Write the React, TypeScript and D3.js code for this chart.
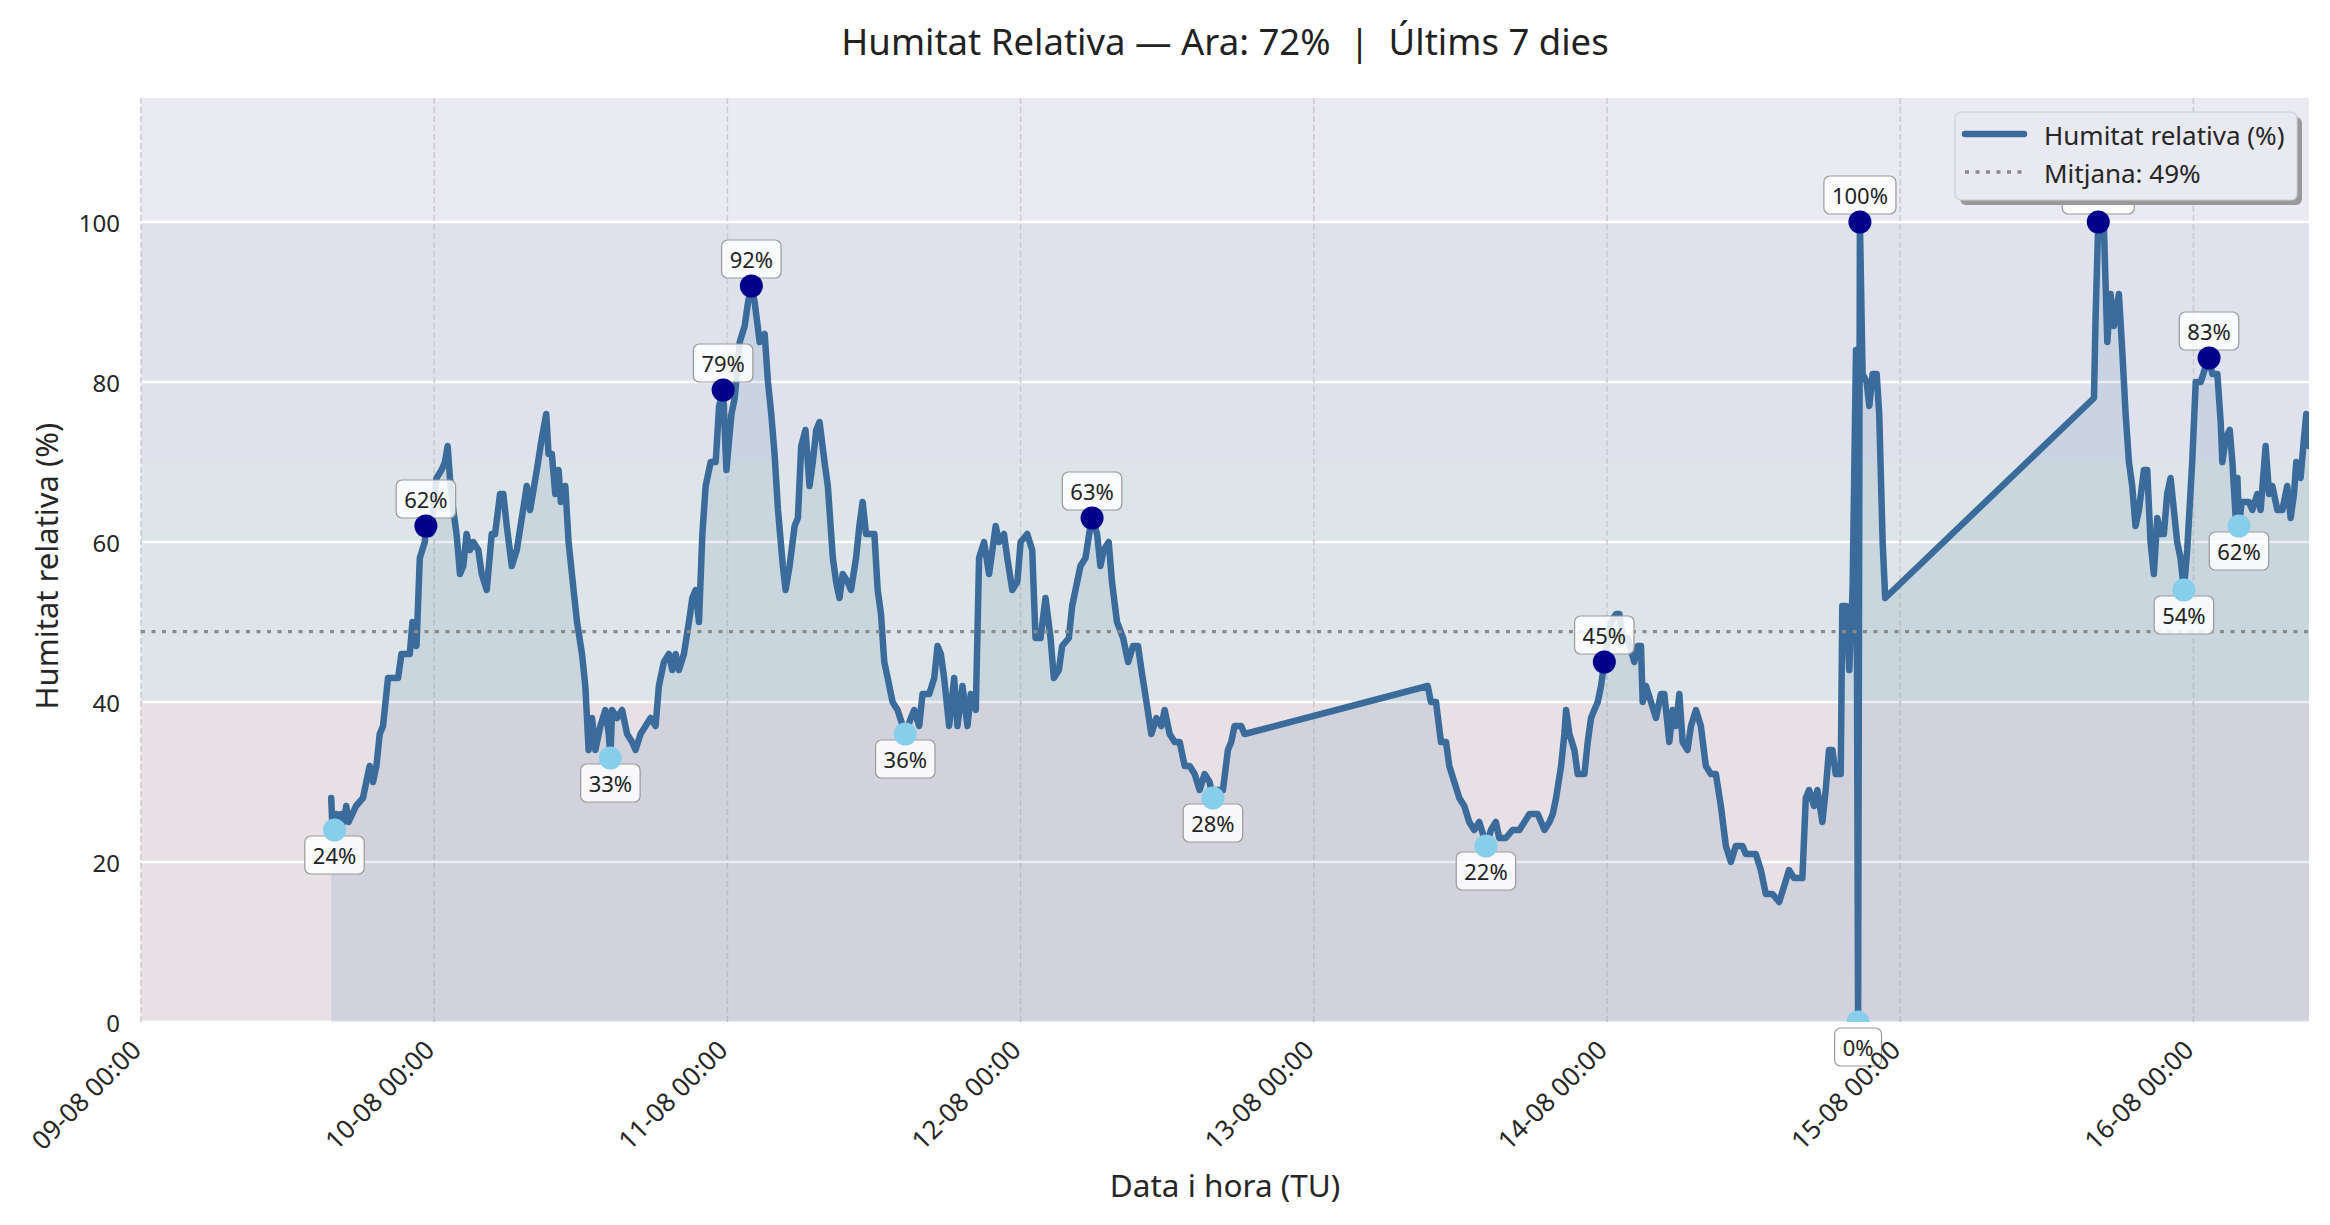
import { useEffect, useRef } from "react";
import * as d3 from "d3";

// hours after 09-08 00:00 (UTC) and relative humidity (%)
const START_UTC = Date.UTC(2025, 7, 9, 0, 0);

const hoursFromStart = [
  15.57, 15.65, 15.84, 16.0, 16.2, 16.4, 16.6, 16.8, 17.0, 17.3, 17.6, 18.17, 18.44, 18.72, 18.99,
  19.27, 19.54, 19.81, 20.22, 20.63, 21.04, 21.32, 22.0, 22.22, 22.55, 22.82, 23.23, 23.32, 23.7,
  24.19, 24.6, 24.88, 25.1, 25.29, 25.56, 25.83, 26.11, 26.38, 26.65, 26.93, 27.2, 27.61, 27.89,
  28.3, 28.71, 28.98, 29.39, 29.66, 29.94, 30.35, 30.76, 31.17, 31.58, 31.85, 32.4, 32.81, 33.17,
  33.36, 33.63, 33.91, 34.18, 34.37, 34.73, 35.0, 35.41, 35.69, 36.1, 36.37, 36.64, 36.92, 37.19,
  37.6, 38.01, 38.29, 38.42, 38.56, 38.97, 39.38, 39.79, 40.2, 40.48, 40.89, 41.3, 41.71, 42.12,
  42.39, 42.8, 43.21, 43.49, 43.76, 44.03, 44.44, 44.85, 45.13, 45.4, 45.67, 45.95, 46.22, 46.63,
  47.04, 47.32, 47.65, 47.92, 48.33, 48.6, 49.01, 49.41, 49.69, 49.96, 50.23, 50.64, 51.05, 51.32,
  51.59, 51.86, 52.14, 52.54, 52.76, 53.09, 53.5, 53.77, 54.04, 54.39, 54.72, 54.99, 55.27, 55.54,
  55.95, 56.22, 56.63, 56.9, 57.17, 57.44, 57.85, 58.12, 58.53, 58.8, 59.07, 59.35, 59.76, 60.03,
  60.3, 60.57, 60.84, 61.12, 61.52, 61.93, 62.56, 63.02, 63.29, 63.7, 63.97, 64.52, 64.93, 65.2,
  65.47, 65.74, 66.15, 66.56, 66.83, 67.24, 67.65, 67.92, 68.33, 68.6, 69.01, 69.42, 69.69, 69.96,
  70.23, 70.64, 70.91, 71.32, 71.73, 72.0, 72.54, 72.95, 73.22, 73.63, 74.04, 74.45, 74.72, 75.13,
  75.4, 75.95, 76.22, 76.49, 76.9, 77.31, 77.71, 77.85, 78.26, 78.53, 78.8, 79.21, 79.48, 79.89,
  80.39, 80.8, 81.2, 81.61, 81.89, 82.3, 82.7, 83.11, 83.52, 83.79, 84.2, 84.61, 85.02, 85.43,
  85.84, 86.25, 86.65, 87.06, 87.47, 87.74, 87.88, 88.56, 88.97, 89.24, 89.51, 90.06, 90.33,
  105.32, 105.59, 106.0, 106.41, 106.82, 107.09, 107.5, 107.91, 108.32, 108.72, 109.13, 109.54,
  109.95, 110.09, 110.5, 110.9, 111.18, 111.72, 112.27, 112.68, 112.83, 113.24, 113.65, 114.33,
  114.88, 115.29, 115.56, 115.83, 116.24, 116.51, 116.65, 116.92, 117.33, 117.6, 118.15, 118.42,
  118.69, 118.96, 119.24, 119.51, 119.78, 120.05, 120.33, 120.74, 121.01, 121.28, 121.69, 122.23,
  122.51, 122.78, 122.92, 123.19, 123.6, 124.01, 124.41, 124.69, 125.1, 125.37, 125.64, 125.92,
  126.19, 126.59, 126.87, 127.28, 127.68, 128.09, 128.5, 128.91, 129.32, 129.73, 130.14, 130.54,
  131.09, 131.36, 132.18, 132.59, 133.0, 133.54, 134.09, 134.5, 134.9, 135.31, 135.99, 136.27,
  136.54, 136.95, 137.22, 137.63, 137.9, 138.17, 138.45, 138.72, 139.13, 139.26, 139.56, 139.83,
  140.1, 140.38, 140.55, 140.7, 140.92, 141.25, 141.47, 141.74, 142.07, 142.28, 142.42, 142.56,
  142.77, 159.86, 159.99, 160.21, 160.68, 160.95, 161.22, 161.49, 161.9, 162.17, 162.45, 162.72,
  162.99, 163.26, 163.54, 163.95, 164.22, 164.49, 164.76, 165.04, 165.31, 165.58, 165.85, 166.13,
  166.4, 166.67, 166.94, 167.22, 167.49, 167.9, 168.19, 168.6, 169.01, 169.28, 169.55, 169.96,
  170.23, 170.37, 170.64, 170.97, 171.19, 171.46, 171.6, 171.73, 171.95, 172.55, 172.82, 173.23,
  173.5, 173.91, 174.19, 174.46, 174.87, 175.28, 175.68, 175.96, 176.23, 176.42, 176.77, 177.05,
  177.24, 177.46,
];

const humidity = [
  28, 25, 24, 26, 25, 26, 25, 27, 25, 26, 27, 28, 30, 32, 30,
  32, 36, 37, 43, 43, 43, 46, 46, 50, 47, 58, 60, 62, 61,
  68, 69, 70, 72, 68, 64, 61, 56, 57, 61, 59, 60, 59, 56,
  54, 61, 61, 66, 66, 62, 57, 59, 63, 67, 64, 69, 73, 76,
  71, 71, 66, 69, 65, 67, 60, 54, 50, 46, 42, 34, 38, 34,
  37, 39, 36, 33, 39, 38, 39, 36, 35, 34, 36, 37, 38, 37,
  42, 45, 46, 44, 46, 44, 46, 50, 53, 54, 50, 61, 67, 70,
  70, 77, 79, 69, 76, 78, 85, 87, 90, 92, 90, 85, 86, 80,
  76, 71, 64, 57, 54, 57, 62, 63, 72, 74, 67, 70, 74, 75,
  70, 67, 58, 55, 53, 56, 55, 54, 58, 62, 65, 61, 61, 61,
  54, 51, 45, 43, 40, 39, 36, 38, 39, 37, 41, 41, 43, 47,
  46, 43, 37, 43, 37, 42, 37, 41, 39, 58, 60, 56, 59, 62,
  60, 61, 58, 54, 55, 60, 61, 59, 48, 48, 53, 48, 43, 44,
  47, 48, 52, 54, 57, 58, 62, 63, 61, 57, 59, 60, 55, 50,
  48, 45, 47, 47, 44, 40, 36, 38, 37, 39, 36, 35, 35, 32,
  32, 31, 29, 31, 30, 28, 29, 29, 34, 35, 37, 37, 36,
  42, 40, 40, 35, 35, 32, 30, 28, 27, 25, 24, 25,
  23, 22, 24, 25, 23, 23, 24, 24, 24, 25, 26, 26,
  24, 25, 26, 28, 32, 36, 39, 36, 34, 31, 31, 35,
  38, 39, 40, 42, 45, 48, 50, 51, 51, 48, 48, 45,
  47, 47, 40, 42, 40, 38, 41, 41, 35, 39, 37, 41,
  35, 34, 37, 39, 37, 32, 31, 31, 27, 22, 20, 22,
  22, 21, 21, 19, 16, 16, 15, 17, 19, 18, 18, 28,
  29, 27, 29, 25, 29, 34, 34, 31, 31, 52, 52, 44,
  54, 84, 0, 100, 81, 80, 77, 81, 81, 76, 68, 60,
  53, 78, 88, 100, 99, 85, 91, 87, 91, 84, 76, 70,
  67, 62, 64, 69, 69, 60, 56, 63, 61, 61, 66, 68,
  64, 60, 58, 54, 59, 70, 80, 80, 82, 83, 81, 81,
  75, 70, 73, 74, 70, 63, 68, 62, 65, 65, 64, 66,
  64, 72, 66, 67, 64, 64, 67, 63, 66, 70, 68, 73,
  76, 72,
];

// mean of the full-resolution series, as printed in the legend
const MEAN_HUMIDITY = 48.8;

const yTicks = [0, 20, 40, 60, 80, 100];
const comfortBands = [
  { from: 0, to: 40, color: "#e7e1e5" },
  { from: 40, to: 70, color: "#dde5e8" },
  { from: 70, to: 100, color: "#dfe2ec" },
];

export default function App() {
  const svgRef = useRef<SVGSVGElement | null>(null);

  useEffect(() => {
    const width = 2330;
    const height = 1225;
    const m = { left: 141, right: 2309, top: 98, bottom: 1022 };
    const font = "'Noto Sans', 'Open Sans', sans-serif";
    const ink = "#262626";
    const lineColor = "#3a6b9b";
    const lineWidth = 6.5;

    const data = hoursFromStart.map((h, i) => ({
      date: new Date(START_UTC + h * 3600e3),
      value: humidity[i],
    }));
    const last = data[data.length - 1];

    const svg = d3.select(svgRef.current).attr("width", width).attr("height", height);
    svg.selectAll("*").remove();

    const x = d3
      .scaleUtc()
      .domain([new Date(START_UTC), last.date])
      .range([m.left, m.right]);
    const y = d3.scaleLinear().domain([0, 115.5]).range([m.bottom, m.top]);

    svg
      .append("defs")
      .append("clipPath")
      .attr("id", "plot-clip")
      .append("rect")
      .attr("x", m.left)
      .attr("y", m.top)
      .attr("width", m.right - m.left)
      .attr("height", m.bottom - m.top);

    svg
      .append("rect")
      .attr("x", m.left)
      .attr("y", m.top)
      .attr("width", m.right - m.left)
      .attr("height", m.bottom - m.top)
      .attr("fill", "#eaeaf2");

    svg
      .selectAll("rect.band")
      .data(comfortBands)
      .enter()
      .append("rect")
      .attr("class", "band")
      .attr("x", m.left)
      .attr("width", m.right - m.left)
      .attr("y", (d) => y(d.to))
      .attr("height", (d) => y(d.from) - y(d.to))
      .attr("fill", (d) => d.color);

    // horizontal grid (white) and vertical dashed day grid
    svg
      .selectAll("line.hgrid")
      .data(yTicks)
      .enter()
      .append("line")
      .attr("x1", m.left)
      .attr("x2", m.right)
      .attr("y1", (d) => y(d))
      .attr("y2", (d) => y(d))
      .attr("stroke", "#fff")
      .attr("stroke-width", 2.6);

    const days = d3.utcDay.range(new Date(START_UTC), last.date);
    svg
      .selectAll("line.vgrid")
      .data(days)
      .enter()
      .append("line")
      .attr("x1", (d) => x(d))
      .attr("x2", (d) => x(d))
      .attr("y1", m.top)
      .attr("y2", m.bottom)
      .attr("stroke", "#cbcbd0")
      .attr("stroke-width", 1.6)
      .attr("stroke-dasharray", "6,3");

    const area = d3
      .area<{ date: Date; value: number }>()
      .x((d) => x(d.date))
      .y0(y(0))
      .y1((d) => y(d.value));
    const line = d3
      .line<{ date: Date; value: number }>()
      .x((d) => x(d.date))
      .y((d) => y(d.value));

    const plot = svg.append("g").attr("clip-path", "url(#plot-clip)");
    plot.append("path").datum(data).attr("d", area).attr("fill", lineColor).attr("fill-opacity", 0.12);
    plot
      .append("path")
      .datum(data)
      .attr("d", line)
      .attr("fill", "none")
      .attr("stroke", lineColor)
      .attr("stroke-width", lineWidth)
      .attr("stroke-linejoin", "round")
      .attr("stroke-linecap", "round");

    svg
      .append("line")
      .attr("x1", m.left)
      .attr("x2", m.right)
      .attr("y1", y(MEAN_HUMIDITY))
      .attr("y2", y(MEAN_HUMIDITY))
      .attr("stroke", "#8a8a8a")
      .attr("stroke-width", 3.4)
      .attr("stroke-dasharray", "4,6.5");

    // daily maximum and minimum
    const byDay = d3.groups(data, (d) => +d3.utcDay.floor(d.date));
    const maxima = byDay.map(([, rows]) => rows[d3.maxIndex(rows, (r) => r.value)]);
    const minima = byDay.map(([, rows]) => rows[d3.minIndex(rows, (r) => r.value)]);

    const labels = svg.append("g");
    const addLabel = (d: { date: Date; value: number }, dy: number) => {
      const g = labels.append("g").attr("transform", `translate(${x(d.date)},${y(d.value) + dy})`);
      const box = g.append("rect");
      const t = g
        .append("text")
        .attr("text-anchor", "middle")
        .attr("dominant-baseline", "central")
        .attr("font-family", font)
        .attr("font-size", 22)
        .attr("fill", "#222")
        .text(`${Math.round(d.value)}%`);
      const w = (t.node() as SVGTextElement).getComputedTextLength() + 16;
      box
        .attr("x", -w / 2)
        .attr("y", -19)
        .attr("width", w)
        .attr("height", 38)
        .attr("rx", 6)
        .attr("fill", "#fff")
        .attr("fill-opacity", 0.85)
        .attr("stroke", "#9a9a9a")
        .attr("stroke-width", 1.2);
    };
    maxima.forEach((d) => addLabel(d, -27));
    minima.forEach((d) => addLabel(d, 25));

    const markers = svg.append("g").attr("clip-path", "url(#plot-clip)");
    markers
      .selectAll("circle.max")
      .data(maxima)
      .enter()
      .append("circle")
      .attr("cx", (d) => x(d.date))
      .attr("cy", (d) => y(d.value))
      .attr("r", 11.5)
      .attr("fill", "#00008b");
    markers
      .selectAll("circle.min")
      .data(minima)
      .enter()
      .append("circle")
      .attr("cx", (d) => x(d.date))
      .attr("cy", (d) => y(d.value))
      .attr("r", 11.5)
      .attr("fill", "#87ceeb");

    // axes text
    svg
      .selectAll("text.ytick")
      .data(yTicks)
      .enter()
      .append("text")
      .attr("x", 120)
      .attr("y", (d) => y(d))
      .attr("text-anchor", "end")
      .attr("dominant-baseline", "central")
      .attr("font-family", font)
      .attr("font-size", 24)
      .attr("fill", ink)
      .text((d) => d);

    const fmt = d3.utcFormat("%d-%m %H:%M");
    svg
      .selectAll("text.xtick")
      .data(days)
      .enter()
      .append("text")
      .attr("transform", (d) => `translate(${x(d) - 12},${m.bottom + 16}) rotate(-45)`)
      .attr("text-anchor", "end")
      .attr("dy", "0.75em")
      .attr("font-family", font)
      .attr("font-size", 26)
      .attr("fill", ink)
      .text((d) => fmt(d));

    svg
      .append("text")
      .attr("x", (m.left + m.right) / 2)
      .attr("y", 1197)
      .attr("text-anchor", "middle")
      .attr("font-family", font)
      .attr("font-size", 31.5)
      .attr("fill", ink)
      .text("Data i hora (TU)");

    svg
      .append("text")
      .attr("transform", `translate(46,${(m.top + m.bottom) / 2 + 6}) rotate(-90)`)
      .attr("text-anchor", "middle")
      .attr("dominant-baseline", "central")
      .attr("font-family", font)
      .attr("font-size", 31)
      .attr("fill", ink)
      .text("Humitat relativa (%)");

    svg
      .append("text")
      .attr("x", (m.left + m.right) / 2)
      .attr("y", 55)
      .attr("text-anchor", "middle")
      .attr("font-family", font)
      .attr("font-size", 36.5)
      .attr("fill", "#222")
      .style("white-space", "pre")
      .text(`Humitat Relativa — Ara: ${Math.round(last.value)}%  |  Últims 7 dies`);

    // legend with shadow
    const lg = svg.append("g").attr("transform", "translate(1955,112)");
    lg.append("rect").attr("x", 5).attr("y", 5).attr("width", 342).attr("height", 88).attr("rx", 6).attr("fill", "#999");
    lg.append("rect")
      .attr("width", 342)
      .attr("height", 88)
      .attr("rx", 6)
      .attr("fill", "#e9eaf1")
      .attr("stroke", "#cfcfd6")
      .attr("stroke-width", 1.2);
    const entries = [
      { label: "Humitat relativa (%)", color: lineColor, width: lineWidth, dash: null as string | null },
      { label: `Mitjana: ${Math.round(MEAN_HUMIDITY)}%`, color: "#8a8a8a", width: 3.4, dash: "4,6.5" },
    ];
    entries.forEach((e, i) => {
      const cy = 22 + i * 38;
      lg.append("line")
        .attr("x1", 10)
        .attr("x2", 69)
        .attr("y1", cy)
        .attr("y2", cy)
        .attr("stroke", e.color)
        .attr("stroke-width", e.width)
        .attr("stroke-linecap", e.dash ? "butt" : "round")
        .attr("stroke-dasharray", e.dash);
      lg.append("text")
        .attr("x", 89)
        .attr("y", cy + 1)
        .attr("dominant-baseline", "central")
        .attr("font-family", font)
        .attr("font-size", 26)
        .attr("fill", ink)
        .text(e.label);
    });
  }, []);

  return <svg ref={svgRef} style={{ position: "absolute", left: 0, top: 0 }}></svg>;
}
